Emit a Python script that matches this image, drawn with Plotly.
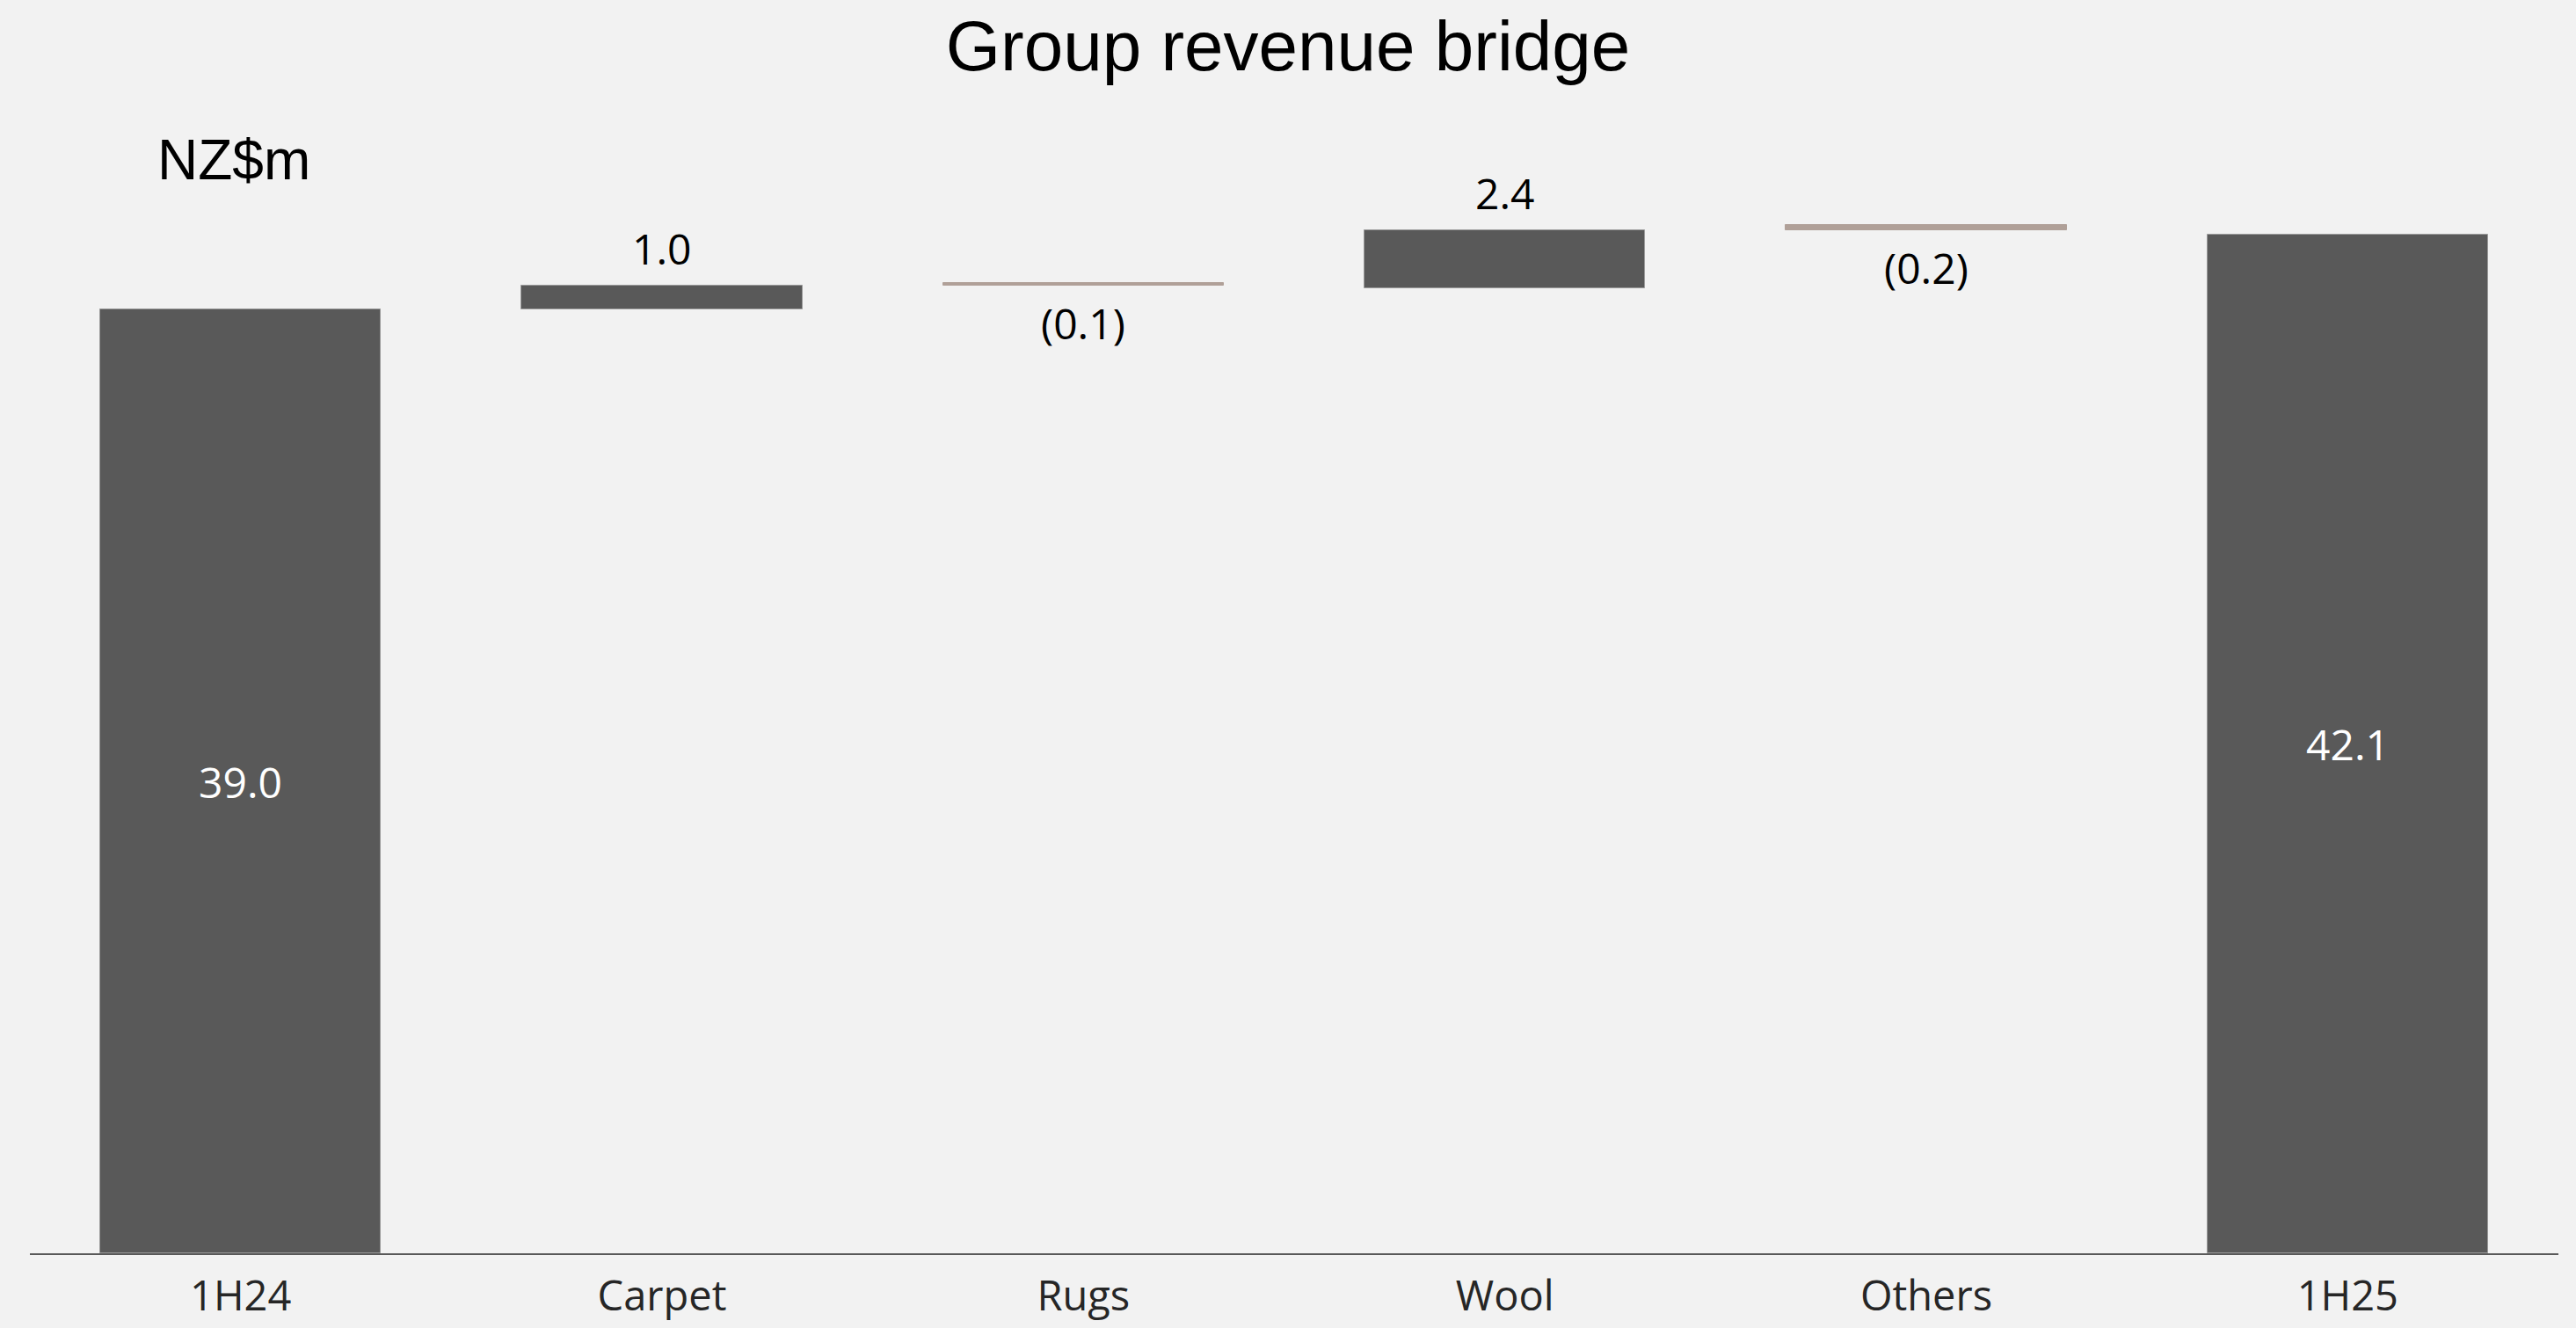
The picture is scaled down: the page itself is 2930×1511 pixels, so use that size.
import plotly.graph_objects as go

# ---- data ----
categories = ["1H24", "Carpet", "Rugs", "Wool", "Others", "1H25"]
values = [39.0, 1.0, -0.1, 2.4, -0.2, 42.1]
kinds = ["total", "delta", "delta", "delta", "delta", "total"]
value_labels = ["39.0", "1.0", "(0.1)", "2.4", "(0.2)", "42.1"]
title_text = "Group revenue bridge"
unit_text = "NZ$m"

# ---- style ----
BG = "#F2F2F2"
BAR = "#595959"
BAR_EDGE = "#9a9a9a"
NEG = "#B0A098"
LABEL_FONT = "Open Sans"
TITLE_FONT = "Liberation Sans"

# compute bar bases / heights (negatives drawn as in the reference: stacked on previous level)
bases, heights, colors, edges = [], [], [], []
running = 0.0
for v, k in zip(values, kinds):
    if k == "total":
        bases.append(0.0)
        heights.append(v)
        colors.append(BAR)
        edges.append(BAR_EDGE)
        running = v
    else:
        bases.append(running)
        heights.append(abs(v))
        colors.append(BAR if v >= 0 else NEG)
        edges.append(BAR_EDGE if v >= 0 else NEG)
        running += v

W, H = 2930, 1511
ML, MR, MT, MB = 34, 20, 100, 85
pw, ph = W - ML - MR, H - MT - MB

fig = go.Figure()
fig.add_trace(go.Bar(
    x=categories, y=heights, base=bases,
    marker=dict(color=colors, line=dict(color=edges, width=1)),
    width=0.666, hoverinfo="skip", showlegend=False,
))

annotations = []
for c, v, k, b, h, lab in zip(categories, values, kinds, bases, heights, value_labels):
    if k == "total":
        annotations.append(dict(x=c, y=h / 2, text=lab, showarrow=False,
                                xref="x", yref="y", yanchor="middle",
                                font=dict(family=LABEL_FONT, size=48, color="white")))
    elif v >= 0:
        annotations.append(dict(x=c, y=b + h, text=lab, showarrow=False,
                                xref="x", yref="y", yanchor="bottom", yshift=8,
                                font=dict(family=LABEL_FONT, size=48, color="black")))
    else:
        annotations.append(dict(x=c, y=b, text=lab, showarrow=False,
                                xref="x", yref="y", yanchor="top", yshift=-8,
                                font=dict(family=LABEL_FONT, size=48, color="black")))

annotations.append(dict(x=(266 - ML) / pw, y=(H - MB - 182) / ph, xref="paper", yref="paper",
                        text=unit_text, showarrow=False, xanchor="center", yanchor="middle",
                        font=dict(family=TITLE_FONT, size=64, color="black")))

fig.update_layout(
    width=W, height=H,
    margin=dict(l=ML, r=MR, t=MT, b=MB, pad=0, autoexpand=False),
    paper_bgcolor=BG, plot_bgcolor=BG,
    title=dict(text=title_text, x=0.5, xanchor="center", y=1 - 52 / H, yanchor="middle",
               yref="container", font=dict(family=TITLE_FONT, size=80, color="black")),
    xaxis=dict(range=[-0.5, 5.5], showline=True, linecolor=BAR, linewidth=2,
               showgrid=False, zeroline=False, ticks="", ticklabelstandoff=7,
               automargin=False,
               tickfont=dict(family=LABEL_FONT, size=47, color="#262626")),
    yaxis=dict(range=[0, 48.17], visible=False, showgrid=False, zeroline=False,
               automargin=False),
    annotations=annotations,
    bargap=0,
)

fig.write_html("out.html")
